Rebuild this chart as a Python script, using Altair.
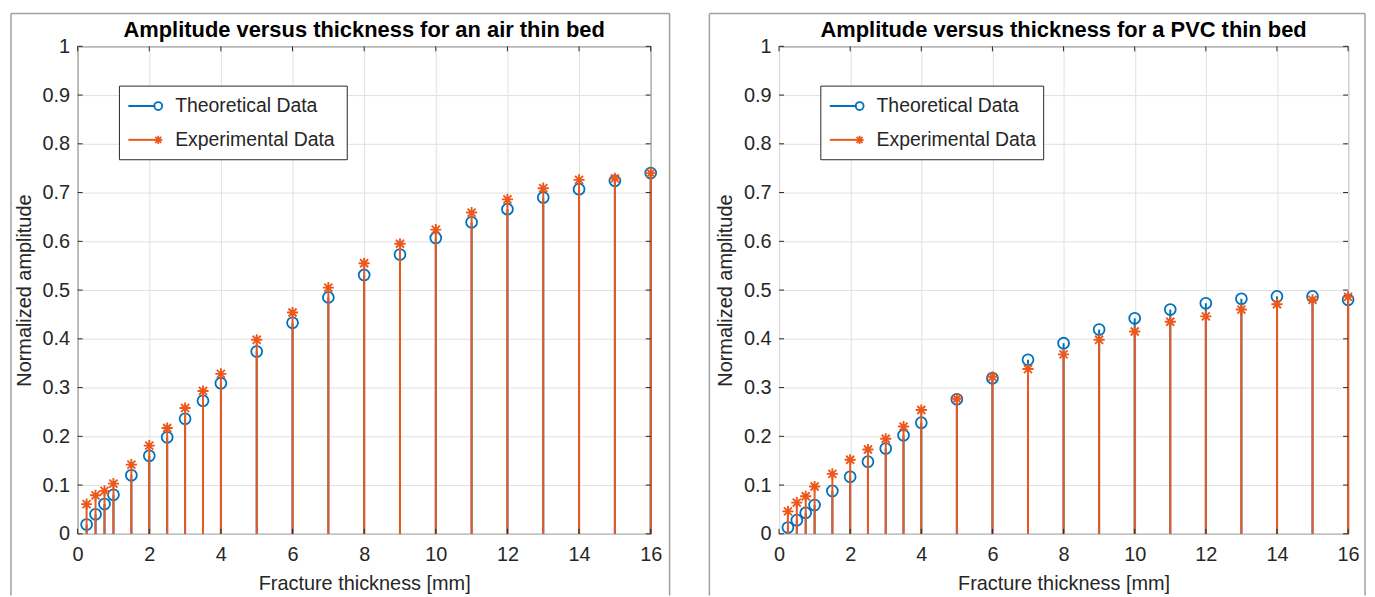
import altair as alt
import pandas as pd

# ---------------- data ----------------
thickness = [0.25, 0.5, 0.75, 1, 1.5, 2, 2.5, 3, 3.5, 4, 5, 6, 7, 8, 9, 10, 11, 12, 13, 14, 15, 16]

air_theoretical = [0.019, 0.040, 0.061, 0.080, 0.120, 0.160, 0.198, 0.236, 0.273, 0.309, 0.374,
                   0.433, 0.485, 0.531, 0.573, 0.607, 0.639, 0.666, 0.690, 0.707, 0.724, 0.740]
air_experimental = [0.061, 0.079, 0.088, 0.103, 0.142, 0.181, 0.217, 0.258, 0.293, 0.328, 0.398,
                    0.454, 0.505, 0.555, 0.595, 0.624, 0.659, 0.686, 0.709, 0.726, 0.729, 0.740]

pvc_theoretical = [0.013, 0.028, 0.043, 0.059, 0.088, 0.117, 0.148, 0.175, 0.202, 0.228, 0.276,
                   0.319, 0.357, 0.391, 0.419, 0.442, 0.460, 0.473, 0.482, 0.487, 0.487, 0.480]
pvc_experimental = [0.046, 0.064, 0.077, 0.097, 0.123, 0.152, 0.173, 0.195, 0.220, 0.254, 0.277,
                    0.322, 0.338, 0.368, 0.398, 0.415, 0.435, 0.446, 0.460, 0.471, 0.480, 0.486]

x_ticks = [0, 2, 4, 6, 8, 10, 12, 14, 16]
y_ticks = [0, 0.1, 0.2, 0.3, 0.4, 0.5, 0.6, 0.7, 0.8, 0.9, 1.0]

series_names = ["Theoretical Data", "Experimental Data"]
panel_titles = ["Amplitude versus thickness for an air thin bed",
                "Amplitude versus thickness for a PVC thin bed"]
x_title = "Fracture thickness [mm]"
y_title = "Normalized amplitude"

# ---------------- style ----------------
BLUE = "#0072BD"
ORANGE = "#EC581C"
DARK = "#262626"
GRID = "#e0e0e0"
FRAME = "#a0a0a0"
FONT = "Liberation Sans"
ASTERISK = "M0,-1L0,1M-1,0L1,0M-0.72,-0.72L0.72,0.72M-0.72,0.72L0.72,-0.72"

one = pd.DataFrame({"k": [0]})


def panel(title, theo, expe, W, H, frame_left, frame_right, legend_w):
    df = pd.DataFrame({"t": thickness, "theo": theo, "exp": expe})
    base = alt.Chart(df)
    xs = alt.Scale(domain=[0, 16], nice=False, zero=False)
    ys = alt.Scale(domain=[0, 1], nice=False)
    x_axis = alt.Axis(values=x_ticks, format="~g", title=x_title, labelFlush=False,
                      labelPadding=11, titlePadding=9)
    y_axis = alt.Axis(values=y_ticks, format="~g", title=y_title, labelFlush=False,
                      labelPadding=8, titlePadding=8)

    def X(f):
        return alt.X(f, scale=xs, axis=x_axis)

    def Y(f):
        return alt.Y(f, scale=ys, axis=y_axis)

    theo_stem = base.mark_rule(color=BLUE, strokeWidth=2).encode(
        x=X("t:Q"), y=Y("theo:Q"), y2=alt.datum(0))
    theo_pt = base.mark_point(shape="circle", filled=False, size=120,
                              strokeWidth=1.8, color=BLUE, opacity=1).encode(
        x=X("t:Q"), y=Y("theo:Q"))
    exp_stem = base.mark_rule(color=ORANGE, strokeWidth=2).encode(
        x=X("t:Q"), y=Y("exp:Q"), y2=alt.datum(0))
    exp_pt = base.mark_point(shape=ASTERISK, filled=False, size=125,
                             strokeWidth=1.9, color=ORANGE, opacity=1).encode(
        x=X("t:Q"), y=Y("exp:Q"))

    # inner tick marks on all four sides of the box
    xt = alt.Chart(pd.DataFrame({"v": x_ticks}))
    yt = alt.Chart(pd.DataFrame({"v": y_ticks}))
    tick_layers = [
        xt.mark_rule(color=DARK, strokeWidth=1).encode(
            x=X("v:Q"), y=alt.value(H), y2=alt.value(H - 5)),
        xt.mark_rule(color=DARK, strokeWidth=1).encode(
            x=X("v:Q"), y=alt.value(0), y2=alt.value(5)),
        yt.mark_rule(color=DARK, strokeWidth=1).encode(
            y=Y("v:Q"), x=alt.value(0), x2=alt.value(5)),
        yt.mark_rule(color=DARK, strokeWidth=1).encode(
            y=Y("v:Q"), x=alt.value(W), x2=alt.value(W - 5)),
    ]

    # figure frame (left, top, right sides)
    oc = alt.Chart(one)
    frame_layers = [
        oc.mark_rule(color=FRAME, strokeWidth=1.5).encode(
            x=alt.value(-frame_left), y=alt.value(-33), y2=alt.value(552)),
        oc.mark_rule(color=FRAME, strokeWidth=1.5).encode(
            x=alt.value(W + frame_right), y=alt.value(-33), y2=alt.value(552)),
        oc.mark_rule(color=FRAME, strokeWidth=1.5).encode(
            x=alt.value(-frame_left), x2=alt.value(W + frame_right), y=alt.value(-33)),
    ]

    title_mark = oc.mark_text(font=FONT, fontSize=22, fontWeight="bold", color="#000000",
                              align="center", baseline="alphabetic").encode(
        x=alt.value(W / 2), y=alt.value(-9), text=alt.value(title))

    # legend
    lx0, ly0 = 42, 40
    legend_layers = [
        oc.mark_rect(fill="white", stroke=DARK, strokeWidth=1).encode(
            x=alt.value(lx0), x2=alt.value(lx0 + legend_w),
            y=alt.value(ly0), y2=alt.value(ly0 + 74)),
    ]
    rows = [(series_names[0], BLUE, "circle", 64, 60),
            (series_names[1], ORANGE, ASTERISK, 70, 94)]
    for name, col, shp, sz, yy in rows:
        legend_layers.append(oc.mark_rule(color=col, strokeWidth=2).encode(
            x=alt.value(51), x2=alt.value(78), y=alt.value(yy)))
        legend_layers.append(oc.mark_point(shape=shp, filled=False, size=sz, strokeWidth=1.8,
                                           color=col, opacity=1).encode(
            x=alt.value(81), y=alt.value(yy)))
        legend_layers.append(oc.mark_text(font=FONT, fontSize=19.5, color=DARK, align="left",
                                          baseline="middle").encode(
            x=alt.value(98), y=alt.value(yy), text=alt.value(name)))

    return alt.layer(theo_stem, theo_pt, exp_stem, exp_pt, *tick_layers, *frame_layers,
                     title_mark, *legend_layers).properties(width=W, height=H)


left = panel(panel_titles[0], air_theoretical, air_experimental, 576, 490, 67, 19, 229)
right = panel(panel_titles[1], pvc_theoretical, pvc_experimental, 572, 490, 70, 17, 224)

chart = alt.hconcat(left, right, spacing=36).properties(
    padding={"left": 1, "top": 2, "right": 0, "bottom": 0},
    background="white",
).configure_view(
    stroke=DARK, strokeWidth=1
).configure_axis(
    domain=False, ticks=False, tickSize=0, grid=True, gridColor=GRID, gridWidth=1,
    labelFont=FONT, labelFontSize=20, labelColor=DARK,
    titleFont=FONT, titleFontSize=20, titleFontWeight="normal", titleColor=DARK,
)

chart.save("out.html", embed_options={"renderer": "svg", "actions": False})
